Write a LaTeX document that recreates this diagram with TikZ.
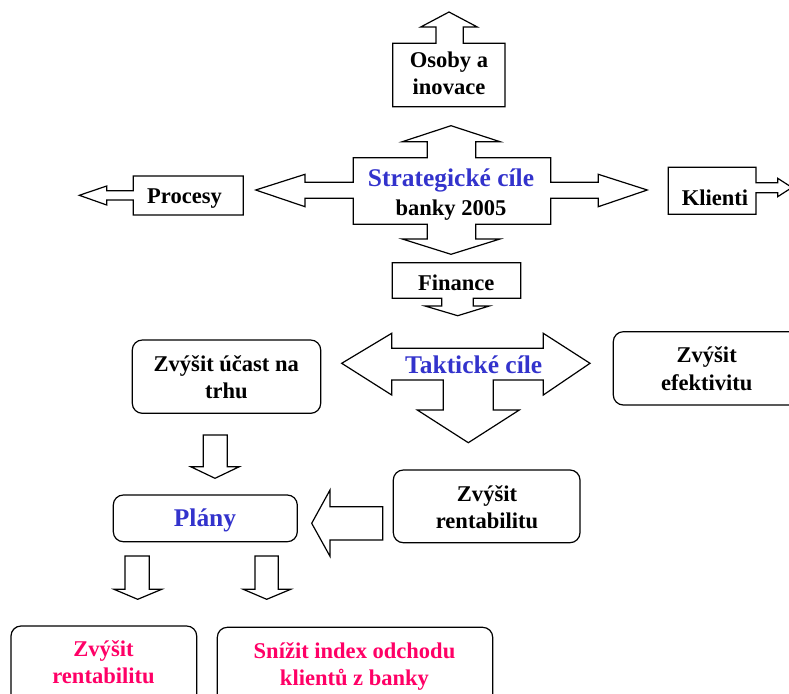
\documentclass[tikz,border=0pt]{standalone}
\usepackage{fontspec}
\setmainfont{Liberation Serif}
\definecolor{cilblue}{RGB}{51,51,204}
\definecolor{cilpink}{RGB}{255,0,102}
\tikzset{
  txt/.style={inner sep=0.75pt, align=center, font=\fontsize{16.9}{20.4}\selectfont\bfseries},
  bigtxt/.style={inner sep=0.75pt, text=cilblue, font=\fontsize{19.1}{22}\selectfont\bfseries},
  pinktxt/.style={txt, text=cilpink},
  outl/.style={line width=0.9pt, line join=miter},
  rbox/.style={outl, rounded corners=7.5pt}
}
\begin{document}
\begin{tikzpicture}[x=0.75pt,y=0.75pt,yscale=-1,xscale=1]
  \clip (0,0) rectangle (789,693);
  %Shape: Up Arrow Callout [id:osoby]
  \draw [outl] (392.7,106.7) -- (392.7,43.3) -- (436,43.3) -- (436,27) -- (420.7,27) -- (449,12) -- (477.3,27) -- (463.3,27) -- (463.3,43.3) -- (505,43.3) -- (505,106.7) -- cycle ;
  %Shape: Quad Arrow Callout [id:strategie]
  \draw [outl] (353.3,157.7) -- (427.3,157.7) -- (427.3,141.7) -- (402.3,141.7) -- (451,125.7) -- (500,141.7) -- (475.7,141.7) -- (475.7,157.7) -- (550.7,157.7) -- (550.7,182.3) -- (598.3,182.3) -- (598.3,174.3) -- (647.3,190) -- (598.3,206.7) -- (598.3,198.3) -- (550.7,198.3) -- (550.7,224.3) -- (475.7,224.3) -- (475.7,239) -- (500,239) -- (451,254.3) -- (402.3,239) -- (427.3,239) -- (427.3,224.3) -- (353.3,224.3) -- (353.3,198.3) -- (305,198.3) -- (305,206.7) -- (255.7,190) -- (305,174.3) -- (305,182.3) -- (353.3,182.3) -- cycle ;
  %Shape: Left Arrow Callout [id:procesy]
  \draw [outl] (243.3,176) -- (243.3,215) -- (133.3,215) -- (133.3,200) -- (106.7,200) -- (106.7,205) -- (79.3,195.3) -- (106.7,186) -- (106.7,190.7) -- (133.3,190.7) -- (133.3,176) -- cycle ;
  %Shape: Right Arrow Callout [id:klienti]
  \draw [outl] (668.3,167.3) -- (756,167.3) -- (756,182.7) -- (777.7,182.7) -- (777.7,178.3) -- (792,187.5) -- (777.7,196.7) -- (777.7,192.7) -- (756,192.7) -- (756,214.3) -- (668.3,214.3) -- cycle ;
  %Shape: Down Arrow Callout [id:finance]
  \draw [outl] (392.3,262.7) -- (520.7,262.7) -- (520.7,298.3) -- (473.3,298.3) -- (473.3,306) -- (489.3,306) -- (457.7,315.7) -- (425,306) -- (441.7,306) -- (441.7,298.3) -- (392.3,298.3) -- cycle ;
  %Shape: Left-Right-Down Arrow [id:taktika]
  \draw [outl] (341.7,363.3) -- (391.7,333.3) -- (391.7,348.3) -- (543.3,348.3) -- (543.3,333.3) -- (590,363.3) -- (543.3,395) -- (543.3,380) -- (493.3,380) -- (493.3,410) -- (519.3,410) -- (468.3,442.7) -- (417.3,410) -- (443.3,410) -- (443.3,380) -- (391.7,380) -- (391.7,395) -- cycle ;
  %Shape: Rounded Rect [id:ucast]
  \draw [rbox] (132.3,340) rectangle (320.7,413.3) ;
  %Shape: Rounded Rect [id:efektivita]
  \draw [rbox] (613.3,331.7) rectangle (800,405) ;
  %Shape: Down Arrow [id:sipka1]
  \draw [outl] (203.3,435) -- (227.3,435) -- (227.3,466.7) -- (239.3,466.7) -- (215,478.3) -- (190.7,466.7) -- (203.3,466.7) -- cycle ;
  %Shape: Rounded Rect [id:plany]
  \draw [rbox] (113.3,495) rectangle (297.3,541.7) ;
  %Shape: Left Arrow [id:sipka2]
  \draw [outl] (382.7,506.7) -- (382.7,540) -- (330,540) -- (330,556.3) -- (311.7,523.3) -- (330,490) -- (330,506.7) -- cycle ;
  %Shape: Rounded Rect [id:rentabilita]
  \draw [rbox] (393.3,470) rectangle (580,542.7) ;
  %Shape: Down Arrow [id:sipka3]
  \draw [outl] (125,556) -- (149.3,556) -- (149.3,589.3) -- (161.7,589.3) -- (137.7,599.3) -- (114,589.3) -- (125,589.3) -- cycle ;
  %Shape: Down Arrow [id:sipka4]
  \draw [outl] (255,556) -- (278.3,556) -- (278.3,589.3) -- (290.7,589.3) -- (266.7,599.3) -- (243.3,589.3) -- (255,589.3) -- cycle ;
  %Shape: Rounded Rect [id:cil1]
  \draw [rbox] (11,626) rectangle (196.7,710) ;
  %Shape: Rounded Rect [id:cil2]
  \draw [rbox] (217.3,627.3) rectangle (492.7,710) ;

  % Text Node
  \draw (449,73.3) node [txt] (osoby) {Osoby a\\inovace};
  % Text Node
  \draw (451,186.7) node [anchor=base][bigtxt] (strat) {Strategické cíle};
  % Text Node
  \draw (451,215) node [anchor=base][txt] (banky) {banky 2005};
  % Text Node
  \draw (184.5,203.3) node [anchor=base][txt] (proc) {Procesy};
  % Text Node
  \draw (715,205) node [anchor=base][txt] (klient) {Klienti};
  % Text Node
  \draw (456.3,290) node [anchor=base][txt] (fin) {Finance};
  % Text Node
  \draw (473.7,373.3) node [anchor=base][bigtxt] (takt) {Taktické cíle};
  % Text Node
  \draw (226.3,377.5) node [txt] (trh) {Zvýšit účast na\\trhu};
  % Text Node
  \draw (706.7,368.7) node [txt] (efekt) {Zvýšit\\efektivitu};
  % Text Node
  \draw (205,526.7) node [anchor=base][bigtxt] (plan) {Plány};
  % Text Node
  \draw (487,507) node [txt] (rent) {Zvýšit\\rentabilitu};
  % Text Node
  \draw (103.5,662.4) node [pinktxt] (rentB) {Zvýšit\\rentabilitu};
  % Text Node
  \draw (354.5,666.1) node [pinktxt] (odchod) {Snížit index odchodu\\klientů z banky};
\end{tikzpicture}
\end{document}
